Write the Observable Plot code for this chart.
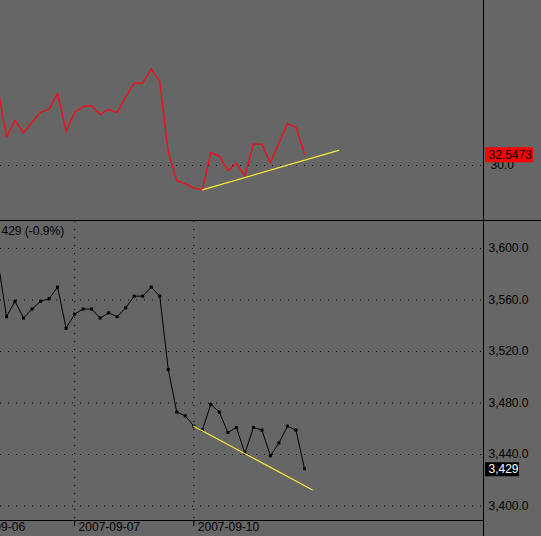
<!DOCTYPE html>
<html><head><meta charset="utf-8">
<script src="https://cdn.jsdelivr.net/npm/d3@7"></script>
<script src="https://cdn.jsdelivr.net/npm/@observablehq/plot@0.6"></script>
<style>
html,body{margin:0;padding:0;background:#666666;}
#chart svg{display:block;}
</style>
</head><body><div id="chart"></div>
<script>
// ---- data ----
const barIndex = d3.range(37);
const rsi = [46.4, 36.2, 39.8, 37.1, 39.4, 41.6, 42.2, 45.7, 37.4, 41.6, 42.8, 43.0, 41.1, 42.2, 41.5, 44.9, 47.9, 47.9, 51.0, 48.3, 32.9, 26.7, 26.0, 25.1, 24.7, 32.8, 32.0, 28.9, 30.5, 27.7, 34.7, 34.6, 30.6, 34.9, 39.1, 38.3, 32.5473];
const price = [3590, 3547, 3559, 3546, 3553, 3559, 3561, 3570, 3538, 3549, 3553, 3553, 3546, 3550, 3547, 3554, 3563, 3563, 3570, 3563, 3506, 3473, 3470, 3462, 3459, 3479, 3473, 3457, 3461, 3441, 3461, 3459, 3439, 3449, 3462, 3459, 3429];
const rsiTrendX = [24, 40];
const rsiTrendY = [24.7, 33.3];
const priceTrendX = [23, 36.9];
const priceTrendY = [3462, 3412.6];
const rsiTicks = [30];
const priceTicks = [3400, 3440, 3480, 3520, 3560, 3600];
const dayTicks = [-4.5, 9, 23];
const dayLabels = ["2007-09-06", "2007-09-07", "2007-09-10"];
const headerText = "429 (-0.9%)";
const rsiLast = 32.5473;
const priceLast = 3429;

// ---- layout helpers (pixel -> data) ----
const X0 = -2.514, DX = 8.514;
const xAt = px => (px - X0) / DX;
const vTop = py => 30 + (165 - py) / 4.6;
const vBot = gy => 3600 - (gy - 248) / 1.2875;

const font = "'Liberation Sans', Arial, sans-serif";
const plotStyle = {background: "#666666", color: "#000", fontFamily: font, fontSize: "12px", overflow: "visible"};
const dotted = {stroke: "#000", strokeDasharray: "1,7", strokeWidth: 1};

const topPanel = Plot.plot({
  width: 541, height: 221,
  marginTop: 0, marginBottom: 1, marginLeft: 0, marginRight: 58,
  style: plotStyle,
  x: {domain: [xAt(0), xAt(483)], axis: null},
  y: {domain: [vTop(220), vTop(0)], axis: null},
  marks: [
    Plot.ruleY(rsiTicks, dotted),
    Plot.text(rsiTicks, {y: d => d, frameAnchor: "right", dx: 7, textAnchor: "start", text: d => d.toFixed(1), fill: "#000"}),
    Plot.line(barIndex, {x: i => i, y: i => rsi[i], stroke: "#e8141e", strokeWidth: 1.5}),
    Plot.line(rsiTrendX, {x: d => d, y: (d, i) => rsiTrendY[i], stroke: "#f6ec3c", strokeWidth: 1.2}),
    Plot.ruleY([rsiLast], {x1: xAt(485), x2: xAt(533), stroke: "#ff0000", strokeWidth: 15, dy: 1}),
    Plot.text([rsiLast], {x: xAt(488), y: d => d, dy: 1, text: d => d.toFixed(4), textAnchor: "start", fill: "#000"}),
    Plot.ruleX([xAt(483)], {stroke: "#000"}),
    Plot.ruleY([vTop(220)], {x1: xAt(0), x2: xAt(541), stroke: "#000"})
  ]
});

const fmt = d3.format(",.1f");
const bottomPanel = Plot.plot({
  width: 541, height: 315,
  marginTop: 0, marginBottom: 16, marginLeft: 0, marginRight: 58,
  style: plotStyle,
  x: {domain: [xAt(0), xAt(483)], axis: null},
  y: {domain: [vBot(520), vBot(221)], axis: null},
  marks: [
    Plot.ruleY(priceTicks, dotted),
    Plot.ruleX(dayTicks, dotted),
    Plot.text(priceTicks, {y: d => d, frameAnchor: "right", dx: 5, textAnchor: "start", text: d => fmt(d), fill: "#000"}),
    Plot.ruleX(dayTicks, {y1: vBot(520), y2: vBot(526), stroke: "#000"}),
    Plot.text(dayTicks, {x: d => d, frameAnchor: "bottom", dx: 4, dy: 2, lineAnchor: "top", textAnchor: "start", text: (d, i) => dayLabels[i], fill: "#000"}),
    Plot.text([headerText], {frameAnchor: "top-left", dx: 1, dy: 10, lineAnchor: "middle", textAnchor: "start", text: d => d, fill: "#000"}),
    Plot.line(barIndex, {x: i => i, y: i => price[i], stroke: "#000", strokeWidth: 1}),
    Plot.dot(barIndex, {x: i => i, y: i => price[i], symbol: "square", r: 1.7, fill: "#000"}),
    Plot.line(priceTrendX, {x: d => d, y: (d, i) => priceTrendY[i], stroke: "#f6ec3c", strokeWidth: 1.2}),
    Plot.ruleY([priceLast], {x1: xAt(485), x2: xAt(519), stroke: "#000", strokeWidth: 14, dy: 0.5}),
    Plot.text([priceLast], {x: xAt(488), y: d => d, dy: 0.5, text: d => d3.format(",")(d), textAnchor: "start", fill: "#fff"}),
    Plot.ruleY([vBot(520)], {stroke: "#000"}),
    Plot.ruleX([xAt(483)], {y1: vBot(221), y2: vBot(536), stroke: "#000"})
  ]
});

document.getElementById("chart").append(topPanel, bottomPanel);
</script>
</body></html>
